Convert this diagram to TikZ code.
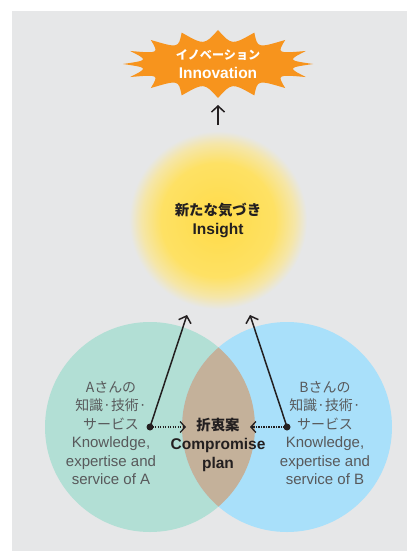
\documentclass[tikz,border=0pt]{standalone}
\usepackage{fontspec}
\setmainfont{Liberation Sans}
\newfontfamily\jp{Noto Sans CJK JP}[Scale=0.93]
\usetikzlibrary{arrows.meta}
\definecolor{bg}{HTML}{E6E7E8}
\definecolor{cA}{HTML}{B2DFD5}
\definecolor{cB}{HTML}{A9E0FA}
\definecolor{cAB}{HTML}{C4B19A}
\definecolor{orangeS}{HTML}{F7941D}
\definecolor{txtgray}{HTML}{58595B}
\definecolor{txtdark}{HTML}{231F20}
\definecolor{yel}{HTML}{FFDB48}
\definecolor{yel2}{HTML}{FEE164}
\definecolor{yel3}{HTML}{F5E6A8}
\pgfdeclareradialshading{glow}{\pgfpoint{0bp}{0bp}}{color(0bp)=(yel); color(16bp)=(yel2); color(21.5bp)=(yel3); color(25bp)=(bg); color(50bp)=(bg)}
\tikzset{
  circtext/.style={align=center, text=txtgray, inner sep=0pt, font=\fontsize{15}{18.5}\selectfont},
  boldtext/.style={align=center, text=txtdark, inner sep=0pt, font=\fontsize{15.5}{19}\selectfont\bfseries},
  arr/.style={draw=txtdark, line width=1.5pt, -{Straight Barb[length=6pt,width=13pt]}},
  darr/.style={draw=txtdark, line width=1.3pt, dash pattern=on 1.2pt off 1.3pt, -{Straight Barb[length=5pt,width=11pt]}},
  dotn/.style={circle, fill=txtdark, minimum size=7pt, inner sep=0pt},
  venn/.style={circle, minimum size=210pt, inner sep=0pt},
}
\begin{document}
\begin{tikzpicture}[x=1pt,y=-1pt]
\useasboundingbox (0,0) rectangle (407,551);
\fill[bg] (12,11) rectangle (407,551);
% Venn circles
\node[venn, fill=cA] (A) at (150,427) {};
\node[venn, fill=cB] (B) at (287,427) {};
\begin{scope}
  \clip (A.center) circle (105);
  \fill[cAB] (B.center) circle (105);
\end{scope}
% glow
\node[circle, minimum size=178pt, inner sep=0pt, shading=glow] (G) at (218,220) {};
% starburst
\coordinate (S) at (218,64);
\fill[orangeS] ({218+95*cos(90)},{64-34*sin(90)})
  \foreach \i in {1,...,16}{
    .. controls ({218+71*cos(90+22.5*\i-11.25)},{64-19*sin(90+22.5*\i-11.25)})
    .. ({218+95*cos(90+22.5*\i)},{64-34*sin(90+22.5*\i)})
  } -- cycle;
% texts
\node[boldtext, text=white] (St) at (S) {{\jp\fontsize{13}{19}\selectfont イノベーション}\\Innovation};
\node[boldtext] (Gt) at (G) {{\jp 新たな気づき}\\Insight};
\node[circtext] (At) at (111,433) {{\jp Aさんの}\\{\jp 知識·技術·}\\{\jp サービス}\\Knowledge,\\expertise and\\service of A};
\node[circtext] (Bt) at (325,433) {{\jp Bさんの}\\{\jp 知識·技術·}\\{\jp サービス}\\Knowledge,\\expertise and\\service of B};
\node[boldtext] (Ct) at (218,445) {{\jp 折衷案}\\Compromise\\plan};
% dots and arrows
\node[dotn] (da) at (A.center) {};
\node[dotn] (db) at (B.center) {};
\coordinate (ga) at (187,315);
\coordinate (gb) at (250,315);
\coordinate (ca) at (186,427);
\coordinate (cb) at (250,427);
\coordinate (t1) at (218,125);
\coordinate (t2) at (218,105);
\draw[arr] (da.center) -- (ga);
\draw[arr] (db.center) -- (gb);
\draw[darr] (da.center) -- (ca);
\draw[darr] (db.center) -- (cb);
\draw[arr] (t1) -- (t2);
\end{tikzpicture}
\end{document}
